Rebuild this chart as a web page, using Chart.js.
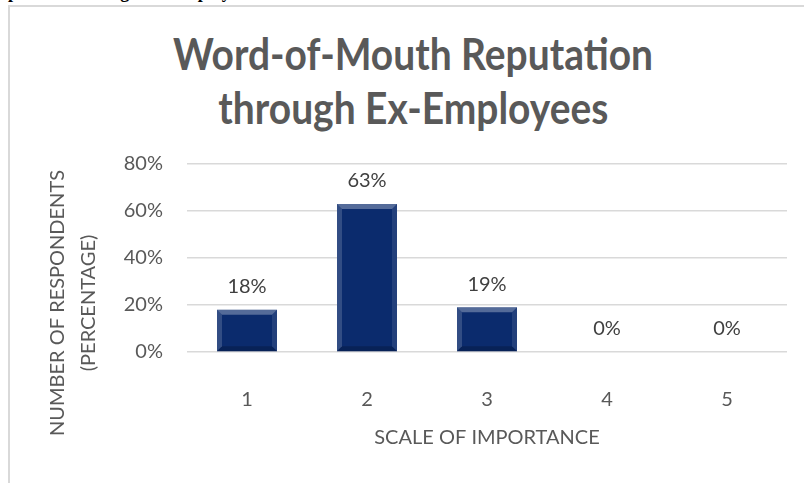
<!DOCTYPE html>
<html>
<head>
<meta charset="utf-8">
<script src="https://cdn.jsdelivr.net/npm/chart.js@4.4.1/dist/chart.umd.min.js"></script>
<style>
  html, body { margin: 0; padding: 0; width: 804px; height: 483px; overflow: hidden; background: #fff; }
  #frame { position: absolute; left: 8px; top: 5px; width: 900px; height: 600px;
           border-left: 2px solid #d9d9d9; border-top: 2px solid #d9d9d9; }
  #doc-line { position: absolute; left: -13px; top: -17px; white-space: nowrap; color: #000;
              font: bold 18px "Liberation Serif", "Times New Roman", serif; line-height: 18px; }
  #title { position: absolute; left: 0; top: 27px; width: 826px; text-align: center;
           font-family: Lato, "Open Sans", sans-serif; font-weight: bold; font-size: 43px;
           line-height: 54px; color: #595959; }
  #title span { display: inline-block; white-space: nowrap; transform-origin: center; }
  #wrap { position: absolute; left: 0; top: 0; width: 804px; height: 483px; }
</style>
</head>
<body>
<div id="frame"></div>
<div id="doc-line">Reputation through Ex-Employees.</div>
<div id="title"><div><span id="t1">Word-of-Mouth Reputation</span></div><div><span id="t2">through Ex-Employees</span></div></div>
<div id="wrap"><canvas id="chart"></canvas></div>
<script>
const categories = ['1', '2', '3', '4', '5'];
const percentValues = [18, 63, 19, 0, 0];
const yTicks = [0, 20, 40, 60, 80];
const yTitleLines = ['NUMBER OF RESPONDENTS', '(PERCENTAGE)'];
const xTitle = 'SCALE OF IMPORTANCE';

const textGray = '#595959';
const font = 'Lato, "Open Sans", sans-serif';

// squeeze the title a bit, Calibri is narrower than Lato
const t1 = document.getElementById('t1');
const k = 480 / t1.getBoundingClientRect().width;
t1.style.transform = 'scaleX(' + k + ')';
document.getElementById('t2').style.transform = 'scaleX(' + k + ')';

// bevel look of the Excel bars
const bevelPlugin = {
  id: 'bevel',
  afterDatasetsDraw(chart) {
    const ctx = chart.ctx;
    chart.getDatasetMeta(0).data.forEach((bar) => {
      const p = bar.getProps(['x', 'y', 'base', 'width'], true);
      const l = p.x - p.width / 2, r = p.x + p.width / 2, t = p.y, b = p.base;
      if (b - t < 2) return;
      const s = Math.min(5, (b - t) / 2);
      const quad = (pts, color) => {
        ctx.beginPath();
        ctx.moveTo(pts[0][0], pts[0][1]);
        for (let i = 1; i < pts.length; i++) ctx.lineTo(pts[i][0], pts[i][1]);
        ctx.closePath();
        ctx.fillStyle = color;
        ctx.fill();
      };
      ctx.save();
      quad([[l, t], [r, t], [r - s, t + s], [l + s, t + s]], 'rgba(255,255,255,0.30)');
      quad([[l, t], [l + s, t + s], [l + s, b - s], [l, b]], 'rgba(255,255,255,0.16)');
      quad([[r, t], [r, b], [r - s, b - s], [r - s, t + s]], 'rgba(255,255,255,0.10)');
      quad([[l, b], [l + s, b - s], [r - s, b - s], [r, b]], 'rgba(0,0,0,0.20)');
      ctx.restore();
    });
  }
};

const valueLabels = {
  id: 'valueLabels',
  afterDatasetsDraw(chart) {
    const ctx = chart.ctx;
    const ds = chart.data.datasets[0];
    ctx.save();
    ctx.font = '20px ' + font;
    ctx.fillStyle = '#404040';
    ctx.textAlign = 'center';
    ctx.textBaseline = 'middle';
    chart.getDatasetMeta(0).data.forEach((bar, i) => {
      ctx.fillText(ds.data[i] + '%', bar.x, bar.y - 23);
    });
    ctx.restore();
  }
};

// y title sits lower than the middle of the axis in the original
const yTitlePlugin = {
  id: 'yTitle',
  afterDraw(chart) {
    const ctx = chart.ctx;
    ctx.save();
    ctx.translate(58, chart.chartArea.bottom - 49);
    ctx.rotate(-Math.PI / 2);
    ctx.font = '20px ' + font;
    ctx.fillStyle = textGray;
    ctx.textAlign = 'center';
    ctx.textBaseline = 'middle';
    yTitleLines.forEach((line, i) => ctx.fillText(line, 0, i * 31));
    ctx.restore();
  }
};

new Chart(document.getElementById('chart'), {
  type: 'bar',
  data: {
    labels: categories,
    datasets: [{
      data: percentValues,
      backgroundColor: '#0b2b6d',
      borderWidth: 0,
      categoryPercentage: 1,
      barPercentage: 0.5
    }]
  },
  options: {
    responsive: true,
    maintainAspectRatio: false,
    animation: false,
    layout: { padding: { top: 164, left: 0, right: 17, bottom: 0 } },
    plugins: { legend: { display: false }, tooltip: { enabled: false } },
    scales: {
      x: {
        grid: { display: false },
        border: { display: false },
        ticks: { color: textGray, font: { family: font, size: 20 }, padding: 28 },
        title: { display: true, text: xTitle, color: textGray,
                 font: { family: font, size: 20 }, padding: { top: 0, bottom: 33 } },
        afterFit(scale) { scale.height = 131; }
      },
      y: {
        min: 0,
        max: 80,
        afterBuildTicks(scale) { scale.ticks = yTicks.map((v) => ({ value: v })); },
        grid: { color: '#d9d9d9', lineWidth: 1.5, drawTicks: false },
        border: { display: false },
        ticks: { color: textGray, font: { family: font, size: 20 }, padding: 24,
                 callback: (v) => v + '%' },
        afterFit(scale) { scale.width = 187; }
      }
    }
  },
  plugins: [bevelPlugin, valueLabels, yTitlePlugin]
});
</script>
</body>
</html>
